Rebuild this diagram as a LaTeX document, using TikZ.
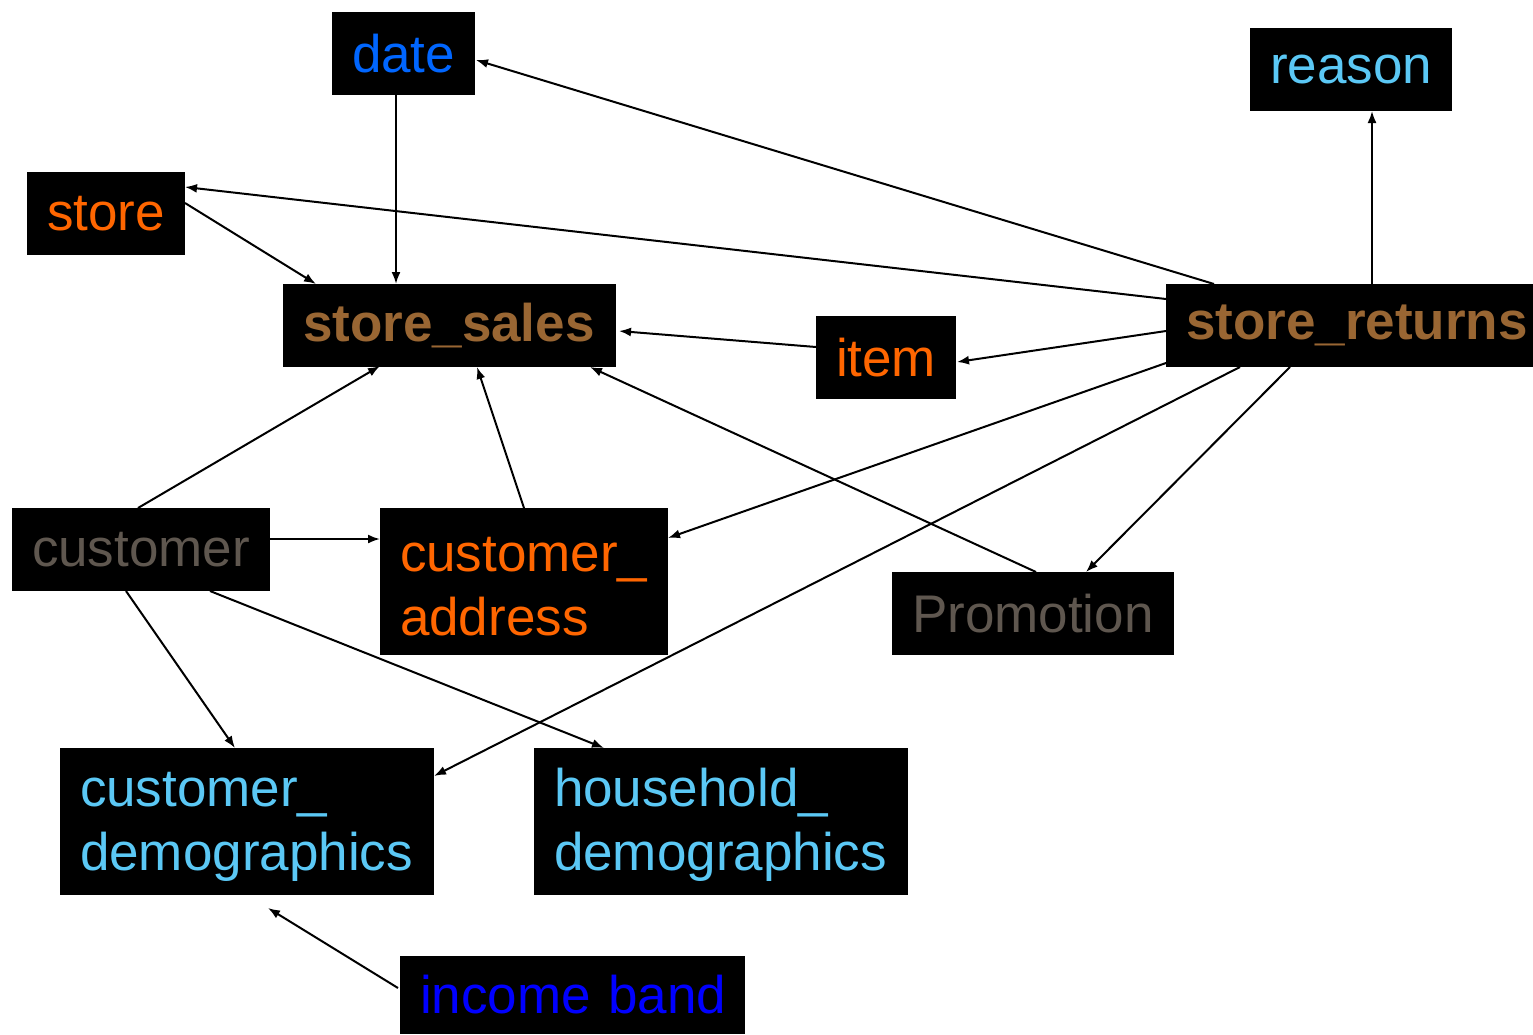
\documentclass[tikz,border=0pt]{standalone}
\usepackage{fontspec}
\setmainfont{Liberation Sans}
\usetikzlibrary{calc,arrows.meta}
\definecolor{cblue}{HTML}{0066FF}
\definecolor{corange}{HTML}{FF6600}
\definecolor{clight}{HTML}{5BC8F5}
\definecolor{cbrown}{HTML}{996633}
\definecolor{cgray}{HTML}{5F574F}
\definecolor{cincome}{HTML}{0000FF}
\begin{document}
\begin{tikzpicture}[x=1pt,y=-1pt,
  box/.style={fill=black, anchor=north west, inner xsep=20pt, inner ysep=0pt, outer sep=0pt,
    align=left, font=\fontsize{53}{64}\selectfont},
  conn/.style={line width=2pt, -{Latex[length=12pt,width=9pt]}}]
\useasboundingbox (0,0) rectangle (1533,1034);
\node[box, text=cblue, minimum height=83pt, text width=103pt] (date) at (332,12) {date};
\node[box, text=clight, minimum height=83pt, text width=162pt] (reason) at (1250,28) {reason};
\node[box, text=corange, minimum height=83pt, text width=118pt] (store) at (27,172) {store};
\node[box, text=cbrown, minimum height=83pt, text width=293pt, font=\fontsize{53}{64}\selectfont\bfseries] (ss) at (283,284) {store\_sales};
\node[box, text=corange, minimum height=83pt, text width=100pt] (item) at (816,316) {item};
\node[box, text=cbrown, minimum height=83pt, text width=357pt, inner xsep=5pt, font=\fontsize{53}{64}\selectfont\bfseries] (sr) at (1166,284) {\hspace*{15pt}store\_returns};
\node[box, text=cgray, minimum height=83pt, text width=218pt] (cust) at (12,508) {customer};
\node[box, text=corange, minimum height=147pt, text width=248pt] (ca) at (380,508) {\rule{0pt}{44pt}customer\_\\address};
\node[box, text=cgray, minimum height=83pt, text width=242pt] (promo) at (892,572) {Promotion};
\node[box, text=clight, minimum height=147pt, text width=334pt] (cd) at (60,748) {\rule{0pt}{44pt}customer\_\\demographics};
\node[box, text=clight, minimum height=147pt, text width=334pt] (hd) at (534,748) {\rule{0pt}{44pt}household\_\\demographics};
\node[box, text=cincome, minimum height=78pt, text width=305pt] (inc) at (400,956) {\mbox{income band}};
\coordinate (incend) at (268,908);

\draw[conn] ($(date.south west)+(64,0)$) -- ($(ss.north west)+(113,0)$);
\draw[conn] ($(store.north east)+(0,31)$) -- ($(ss.north west)+(33,0)$);
\draw[conn] ($(sr.north west)+(48,0)$) -- ($(date.north east)+(1,48)$);
\draw[conn] ($(sr.north west)+(0,15)$) -- ($(store.north east)+(0,15)$);
\draw[conn] ($(sr.north west)+(206,0)$) -- ($(reason.south west)+(122,0)$);
\draw[conn] ($(item.north west)+(0,31)$) -- ($(ss.north east)+(3,47)$);
\draw[conn] ($(sr.north west)+(0,47)$) -- ($(item.north east)+(1,46)$);
\draw[conn] ($(cust.north west)+(126,0)$) -- ($(ss.south west)+(97,-1)$);
\draw[conn] ($(ca.north west)+(144,0)$) -- ($(ss.south west)+(194,0)$);
\draw[conn] ($(promo.north west)+(144,0)$) -- ($(ss.south west)+(307,0)$);
\draw[conn] ($(sr.south west)+(0,-4)$) -- ($(ca.north east)+(0,30)$);
\draw[conn] ($(sr.south west)+(74,0)$) -- ($(cd.north east)+(0,28)$);
\draw[conn] ($(sr.south west)+(124,0)$) -- ($(promo.north west)+(194,0)$);
\draw[conn] ($(cust.north east)+(0,31)$) -- ($(ca.north west)+(0,31)$);
\draw[conn] ($(cust.south west)+(114,0)$) -- ($(cd.north west)+(175,0)$);
\draw[conn] ($(cust.south west)+(198,0)$) -- ($(hd.north west)+(70,0)$);
\draw[conn] ($(inc.north west)+(-2,32)$) -- (incend);
\end{tikzpicture}
\end{document}
